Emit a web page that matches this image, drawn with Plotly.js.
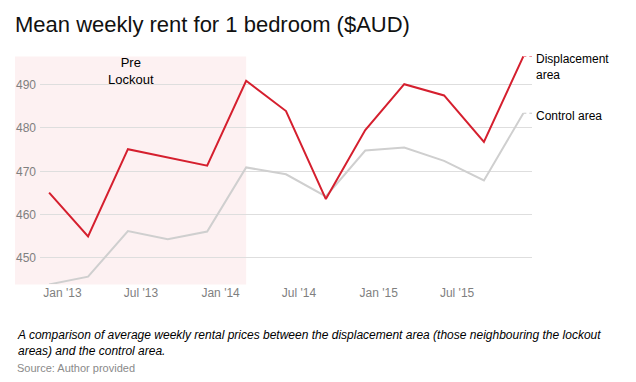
<!DOCTYPE html>
<html>
<head>
<meta charset="utf-8">
<script src="https://cdn.plot.ly/plotly-3.0.1.min.js"></script>
<style>
html,body{margin:0;padding:0;background:#fff;}
#chart{width:636px;height:382px;}
</style>
</head>
<body>
<div id="chart"></div>
<script>
const dates = ["2012-12-01","2013-03-01","2013-06-01","2013-09-01","2013-12-01","2014-03-01","2014-06-01","2014-09-01","2014-12-01","2015-03-01","2015-06-01","2015-09-01","2015-12-01"];
const displacement = [465.1, 455.0, 475.1, 473.2, 471.3, 490.9, 483.9, 463.6, 479.5, 490.1, 487.5, 476.8, 496.5];
const control = [443.9, 445.7, 456.2, 454.3, 456.1, 470.9, 469.3, 464.2, 474.8, 475.5, 472.4, 467.9, 483.4];
const yTicks = [450, 460, 470, 480, 490];
const lockoutDate = "2014-03-01";

const W = 636, H = 382;
const M = {l: 40, r: 104, t: 56, b: 98};
const pw = W - M.l - M.r, ph = H - M.t - M.b;
const px = x => (x - M.l) / pw;
const py = y => (H - M.b - y) / ph;
const xRange = ["2012-11-10", "2015-12-21"];
const FONT = "Liberation Sans, Arial, Helvetica, sans-serif";
const red = "#d51f2e", grey = "#cfcfcf";

// paper x of lockout date, computed from axis range
const t0 = Date.parse(xRange[0]), t1 = Date.parse(xRange[1]);
const lockPaper = (Date.parse(lockoutDate) - t0) / (t1 - t0);

const traces = [
  {x: dates, y: control, type: "scatter", mode: "lines", line: {color: grey, width: 2}, hoverinfo: "skip"},
  {x: dates, y: displacement, type: "scatter", mode: "lines", line: {color: red, width: 2}, hoverinfo: "skip"}
];

const last = dates.length - 1;
const layout = {
  width: W, height: H,
  margin: M,
  paper_bgcolor: "#fff", plot_bgcolor: "rgba(0,0,0,0)",
  showlegend: false,
  font: {family: FONT, color: "#000"},
  title: {text: "Mean weekly rent for 1 bedroom ($AUD)", font: {family: FONT, size: 22, color: "#111"},
          xref: "container", yref: "container", x: 15/W, xanchor: "left", y: 1 - 24/H, yanchor: "middle"},
  xaxis: {type: "date", range: xRange, tick0: "2013-01-01", dtick: "M6", tickformat: "%b '%y",
          showgrid: false, zeroline: false, showline: false, ticks: "",
          tickfont: {size: 12, color: "#7f7f7f", family: FONT}, fixedrange: true},
  yaxis: {range: [444, 496.6], tickvals: yTicks, showgrid: true, gridcolor: "#dedede", gridwidth: 1,
          zeroline: false, showline: false, ticks: "", ticklabelstandoff: 3,
          tickfont: {size: 12, color: "#7f7f7f", family: FONT}, fixedrange: true},
  shapes: [
    {type: "rect", xref: "paper", yref: "paper", x0: px(15), x1: lockPaper, y0: py(284.5), y1: py(56.5),
     fillcolor: "#fdf1f2", line: {width: 0}, layer: "below"},
    {type: "line", xref: "x", yref: "y", x0: dates[last], x1: xRange[1], y0: displacement[last], y1: displacement[last],
     line: {color: "#f08a94", width: 1, dash: "dot"}},
    {type: "line", xref: "x", yref: "y", x0: dates[last], x1: xRange[1], y0: control[last], y1: control[last],
     line: {color: "#c8c8c8", width: 1, dash: "dot"}}
  ],
  annotations: [
    {text: "Pre<br>Lockout", xref: "paper", yref: "paper", x: (px(15) + lockPaper) / 2, y: py(53),
     xanchor: "center", yanchor: "top", showarrow: false, align: "center",
     font: {size: 13, color: "#000", family: FONT}},
    {text: "Displacement<br>area", xref: "paper", yref: "y", x: 1, y: displacement[last], xshift: 2, yshift: 6,
     xanchor: "left", yanchor: "top", showarrow: false, align: "left",
     font: {size: 12, color: "#000", family: FONT}},
    {text: "Control area", xref: "paper", yref: "y", x: 1, y: control[last], xshift: 2, yshift: -3,
     xanchor: "left", yanchor: "middle", showarrow: false, align: "left",
     font: {size: 12, color: "#000", family: FONT}},
    {text: "<i>A comparison of average weekly rental prices between the displacement area (those neighbouring the lockout<br>areas) and the control area.</i>",
     xref: "paper", yref: "paper", x: px(15), y: py(326), xanchor: "left", yanchor: "top", showarrow: false, align: "left",
     font: {size: 12, color: "#000", family: FONT}},
    {text: "Source: Author provided", xref: "paper", yref: "paper", x: px(15), y: py(360), xanchor: "left", yanchor: "top",
     showarrow: false, align: "left", font: {size: 11, color: "#8a8a8a", family: FONT}}
  ]
};

Plotly.newPlot("chart", traces, layout, {displayModeBar: false, staticPlot: true});
</script>
</body>
</html>
